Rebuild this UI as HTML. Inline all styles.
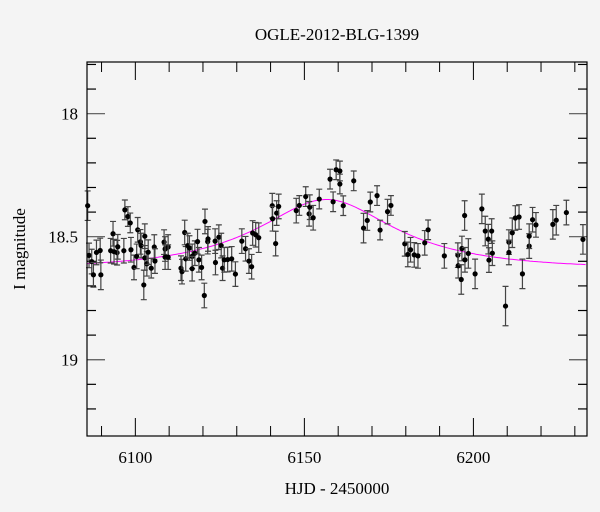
<!DOCTYPE html>
<html><head><meta charset="utf-8"><style>
html,body{margin:0;padding:0;background:#f4f4f4;}
svg{display:block;font-family:"Liberation Serif",serif;}
</style></head><body>
<svg id="chart" width="600" height="512" viewBox="0 0 600 512">
<rect x="0" y="0" width="600" height="512" fill="#f4f4f4"/>
<text x="337" y="40" text-anchor="middle" font-size="17" fill="#000">OGLE-2012-BLG-1399</text>
<text transform="translate(25,249) rotate(-90)" text-anchor="middle" font-size="17" fill="#000">I magnitude</text>
<text x="337" y="494" text-anchor="middle" font-size="17" fill="#000">HJD - 2450000</text>
<g id="axes"></g>
<g id="model"></g>
<g id="points"></g>
<rect x="87" y="62" width="500" height="374" fill="none" stroke="#000" stroke-width="1.2"/>
</svg>
<script>
const days=[6085.9,6086.3,6087.1,6087.6,6088.5,6089.6,6089.8,6092.7,6093.4,6093.7,6094.6,6094.8,6096.6,6096.9,6097.8,6098.5,6098.7,6099.6,6100.4,6100.7,6101.5,6101.7,6102.5,6102.8,6102.8,6103.4,6103.8,6104.7,6105.6,6105.8,6108.5,6108.8,6108.8,6109.7,6109.7,6113.5,6113.8,6114.6,6114.9,6115.5,6116.0,6116.8,6116.8,6117.6,6118.4,6118.8,6119.6,6120.4,6120.6,6121.4,6121.5,6123.6,6123.7,6124.7,6125.4,6125.8,6126.3,6127.3,6128.5,6129.6,6131.5,6132.6,6133.6,6134.4,6134.7,6135.6,6136.5,6140.5,6140.6,6141.5,6141.8,6142.4,6147.6,6148.5,6150.4,6151.4,6151.6,6152.6,6154.4,6157.6,6158.5,6159.4,6160.5,6160.5,6161.5,6164.6,6167.5,6168.6,6169.5,6171.5,6172.4,6174.6,6175.6,6179.7,6180.6,6181.4,6182.5,6183.6,6185.6,6186.6,6191.4,6195.4,6195.5,6196.4,6196.6,6197.4,6197.5,6198.5,6200.5,6202.5,6203.5,6204.4,6204.6,6205.4,6205.6,6209.5,6210.5,6210.5,6211.5,6212.4,6213.5,6214.5,6216.5,6216.5,6217.5,6218.5,6223.5,6224.5,6227.5,6232.4];
const mags=[18.374,18.576,18.601,18.655,18.564,18.556,18.655,18.557,18.488,18.561,18.565,18.541,18.557,18.391,18.418,18.444,18.553,18.625,18.580,18.472,18.521,18.536,18.696,18.498,18.586,18.610,18.563,18.628,18.542,18.599,18.522,18.550,18.583,18.542,18.583,18.628,18.642,18.483,18.590,18.536,18.546,18.580,18.630,18.567,18.520,18.594,18.625,18.739,18.438,18.520,18.509,18.518,18.605,18.502,18.536,18.628,18.594,18.593,18.590,18.652,18.518,18.549,18.599,18.622,18.485,18.492,18.504,18.374,18.427,18.528,18.404,18.377,18.394,18.373,18.337,18.407,18.380,18.423,18.347,18.266,18.358,18.228,18.233,18.286,18.374,18.273,18.465,18.434,18.359,18.333,18.473,18.398,18.373,18.529,18.572,18.553,18.574,18.578,18.525,18.472,18.578,18.575,18.618,18.674,18.548,18.414,18.594,18.568,18.651,18.387,18.477,18.510,18.595,18.477,18.567,18.782,18.522,18.564,18.484,18.424,18.420,18.651,18.538,18.498,18.431,18.452,18.450,18.433,18.402,18.511];
const errs=[0.06,0.05,0.05,0.05,0.05,0.05,0.06,0.05,0.05,0.05,0.05,0.05,0.05,0.04,0.04,0.04,0.05,0.05,0.05,0.05,0.05,0.05,0.06,0.05,0.05,0.05,0.05,0.04,0.05,0.05,0.05,0.05,0.05,0.05,0.05,0.05,0.05,0.05,0.05,0.05,0.05,0.05,0.05,0.05,0.05,0.05,0.05,0.05,0.05,0.05,0.05,0.05,0.05,0.05,0.05,0.05,0.05,0.05,0.05,0.05,0.05,0.05,0.05,0.05,0.05,0.05,0.06,0.05,0.05,0.05,0.05,0.05,0.05,0.04,0.04,0.05,0.05,0.05,0.04,0.04,0.04,0.04,0.04,0.04,0.04,0.04,0.06,0.04,0.04,0.04,0.04,0.05,0.04,0.05,0.05,0.05,0.05,0.05,0.05,0.04,0.05,0.05,0.05,0.06,0.05,0.06,0.05,0.06,0.06,0.06,0.06,0.06,0.05,0.05,0.05,0.08,0.05,0.05,0.06,0.05,0.05,0.06,0.05,0.05,0.05,0.05,0.06,0.06,0.05,0.06];
const xTicks=[6100,6150,6200];
const yTicks=[18,18.5,19];
// model parameters
const m0=18.63, t0=6156.5, tE=40, u0=0.5, fs=0.25;

const NS="http://www.w3.org/2000/svg";
const X0=87,X1=587,Y0=62,Y1=436;
const dMin=6085.7,dMax=6233.6,mMin=17.79,mMax=19.31;
const xs=d=>X0+(d-dMin)/(dMax-dMin)*(X1-X0);
const ys=m=>Y0+(m-mMin)/(mMax-mMin)*(Y1-Y0);
function mk(tag,attrs,parent){const e=document.createElementNS(NS,tag);for(const k in attrs)e.setAttribute(k,attrs[k]);parent.appendChild(e);return e;}

const axes=document.getElementById('axes');
// x ticks
for(let d=6090;d<=6230;d+=10){
  const major=d%50===0;const L=major?18:10;const x=xs(d);
  const t1=mk('line',{x1:x,y1:Y1,x2:x,y2:Y1-L,stroke:'#000','stroke-width':1},axes);
  
  
  const t2=mk('line',{x1:x,y1:Y0,x2:x,y2:Y0+L,stroke:'#000','stroke-width':1},axes);
  
  
}
xTicks.forEach(d=>{
  const t=mk('text',{x:xs(d),y:463,'text-anchor':'middle','font-size':17},axes);
  t.textContent=d;
  
  
});
// y ticks
for(let i=0;i<=14;i++){
  const m=17.8+i*0.1;if(m>19.31)break;
  const major=Math.abs(m*2-Math.round(m*2))<1e-6;const L=major?18:9;const y=ys(m);
  const t1=mk('line',{x1:X0,y1:y,x2:X0+L,y2:y,stroke:major?'#555':'#000','stroke-width':1.2},axes);
  
  
  const t2=mk('line',{x1:X1,y1:y,x2:X1-L,y2:y,stroke:major?'#555':'#000','stroke-width':1.2},axes);
  
  
}
yTicks.forEach(m=>{
  const t=mk('text',{x:78,y:ys(m)+6,'text-anchor':'end','font-size':17},axes);
  t.textContent=(m===18.5)?'18.5':String(m);
  
  
});
// model
const model=document.getElementById('model');
let pts=[];
for(let d=dMin;d<=dMax;d+=0.5){
  const tau=(d-t0)/tE;const u=Math.sqrt(u0*u0+tau*tau);
  const A=(u*u+2)/(u*Math.sqrt(u*u+4));
  const m=m0-2.5*Math.log10(fs*A+1-fs);
  pts.push(xs(d).toFixed(1)+','+ys(m).toFixed(1));
}
const pl=mk('polyline',{points:pts.join(' '),fill:'none',stroke:'#ff00ff','stroke-width':1},model);


// points
const g=document.getElementById('points');
days.forEach((d,i)=>{
  const x=xs(d),y=ys(mags[i]),e=errs[i];
  const yt=ys(mags[i]-e),yb=ys(mags[i]+e);
  const b=mk('path',{d:`M${x},${yt}V${yb}M${x-3},${yt}H${x+3}M${x-3},${yb}H${x+3}`,stroke:'#444','stroke-width':1.2,fill:'none'},g);
  
  
  const c=mk('circle',{cx:x,cy:y,r:2.6,fill:'#000'},g);
  
  
});
</script>
</body></html>
